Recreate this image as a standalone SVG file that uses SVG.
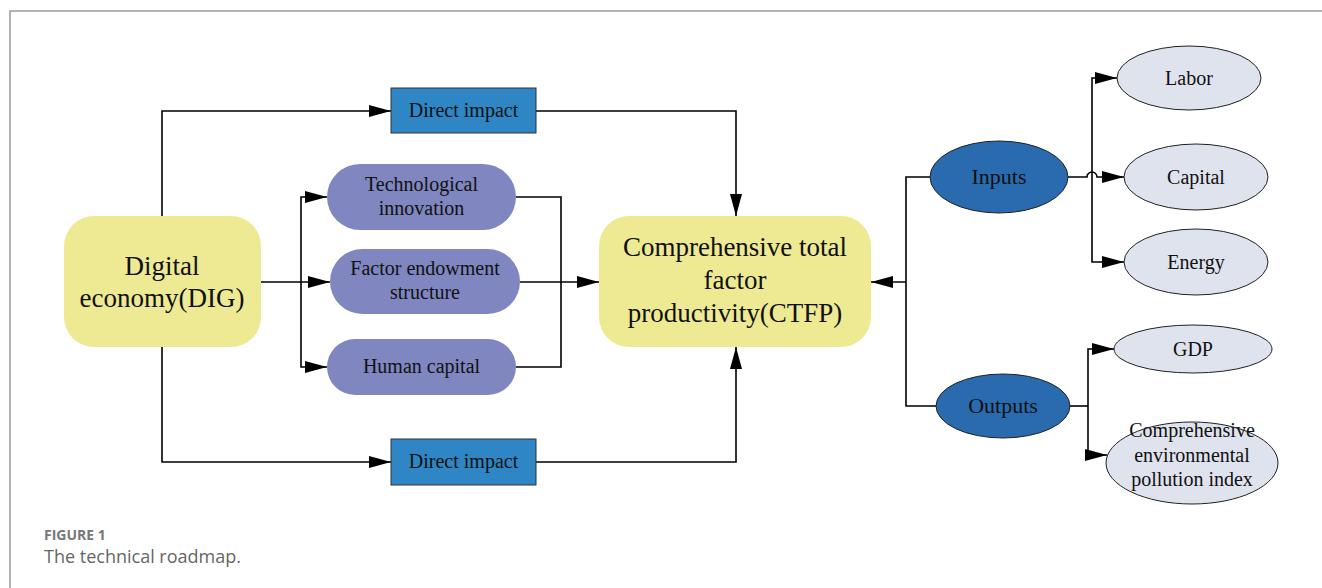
<svg xmlns="http://www.w3.org/2000/svg" width="1322" height="588" viewBox="0 0 1322 588">
<defs>
<marker id="arr" viewBox="0 0 22 12" refX="22" refY="6" markerWidth="22" markerHeight="12" markerUnits="userSpaceOnUse" orient="auto"><path d="M0,0 L22,6 L0,12 z" fill="#000"/></marker>
<style>
.t{font-family:"Liberation Serif","Times New Roman",serif;fill:#111;text-anchor:middle}
.big{font-size:27px}
.mid{font-size:20px}
.io{font-size:22px}
.ln{fill:none;stroke:#000;stroke-width:1.6}
.yel{fill:#EEEA94}
.dir{fill:#2E86C4;stroke:#333;stroke-width:1}
.pill{fill:#7F86C0}
.dk{fill:#2A6BB0;stroke:#222;stroke-width:1}
.lt{fill:#DFE3EE;stroke:#222;stroke-width:1}
.cap{font-family:"Open Sans","Liberation Sans",sans-serif;fill:#777}
</style>
</defs>
<rect width="1322" height="588" fill="#fff"/>
<path d="M10,588 V11 H1322" fill="none" stroke="#999" stroke-width="1.5"/>

<g id="connectors">
<path class="ln" d="M162,216 V111 H391" marker-end="url(#arr)"/>
<path class="ln" d="M536,111 H736 V216" marker-end="url(#arr)"/>
<path class="ln" d="M162,347 V462 H391" marker-end="url(#arr)"/>
<path class="ln" d="M536,462 H736 V347" marker-end="url(#arr)"/>
<path class="ln" d="M261,282 H330" marker-end="url(#arr)"/>
<path class="ln" d="M301,282 V197 H327" marker-end="url(#arr)"/>
<path class="ln" d="M301,282 V367 H327" marker-end="url(#arr)"/>
<path class="ln" d="M516,197 H561 V367 H516"/>
<path class="ln" d="M520,282 H599" marker-end="url(#arr)"/>
<path class="ln" d="M906,282 H871" marker-end="url(#arr)"/>
<path class="ln" d="M930,177 H906 V406 H937"/>
<path class="ln" d="M1068,177 H1087 A5,5 0 0 1 1097,177 H1124" marker-end="url(#arr)"/>
<path class="ln" d="M1092,177 V78 H1117" marker-end="url(#arr)"/>
<path class="ln" d="M1092,177 V262 H1124" marker-end="url(#arr)"/>
<path class="ln" d="M1070,406 H1088"/>
<path class="ln" d="M1088,406 V349 H1114" marker-end="url(#arr)"/>
<path class="ln" d="M1088,406 V455 H1107" marker-end="url(#arr)"/>
</g>

<g id="dig">
<rect class="yel" x="64" y="216" width="197" height="131" rx="30"/>
<text class="t big" x="162" y="275">Digital</text>
<text class="t big" x="162" y="307">economy(DIG)</text>
</g>
<g id="ctfp">
<rect class="yel" x="599" y="216" width="272" height="131" rx="30"/>
<text class="t big" x="735" y="256">Comprehensive total</text>
<text class="t big" x="735" y="289">factor</text>
<text class="t big" x="735" y="322">productivity(CTFP)</text>
</g>
<g id="direct-top">
<rect class="dir" x="391" y="88" width="145" height="45"/>
<text class="t mid" x="463.5" y="117">Direct impact</text>
</g>
<g id="direct-bottom">
<rect class="dir" x="391" y="439" width="145" height="46"/>
<text class="t mid" x="463.5" y="468">Direct impact</text>
</g>
<g id="tech">
<rect class="pill" x="327" y="164" width="189" height="66" rx="33"/>
<text class="t mid" x="421.5" y="191">Technological</text>
<text class="t mid" x="421.5" y="215">innovation</text>
</g>
<g id="factor">
<rect class="pill" x="330" y="249" width="190" height="65" rx="32.5"/>
<text class="t mid" x="425" y="275">Factor endowment</text>
<text class="t mid" x="425" y="299">structure</text>
</g>
<g id="human">
<rect class="pill" x="327" y="339" width="189" height="56" rx="28"/>
<text class="t mid" x="421.5" y="373">Human capital</text>
</g>
<g id="inputs">
<ellipse class="dk" cx="999" cy="177" rx="69" ry="36"/>
<text class="t io" x="999" y="184">Inputs</text>
</g>
<g id="outputs">
<ellipse class="dk" cx="1003" cy="406" rx="67" ry="32"/>
<text class="t io" x="1003" y="413">Outputs</text>
</g>
<g id="labor">
<ellipse class="lt" cx="1189" cy="78" rx="72" ry="32"/>
<text class="t mid" x="1189" y="85">Labor</text>
</g>
<g id="capital">
<ellipse class="lt" cx="1196" cy="177" rx="72" ry="33"/>
<text class="t mid" x="1196" y="184">Capital</text>
</g>
<g id="energy">
<ellipse class="lt" cx="1196" cy="262" rx="72" ry="33"/>
<text class="t mid" x="1196" y="269">Energy</text>
</g>
<g id="gdp">
<ellipse class="lt" cx="1193" cy="349" rx="79" ry="24"/>
<text class="t mid" x="1193" y="356">GDP</text>
</g>
<g id="pollution">
<ellipse class="lt" cx="1192" cy="463" rx="86" ry="41"/>
<text class="t mid" x="1192" y="437">Comprehensive</text>
<text class="t mid" x="1192" y="462">environmental</text>
<text class="t mid" x="1192" y="486">pollution index</text>
</g>

<text class="cap" x="44" y="540" font-size="14" font-weight="bold">FIGURE 1</text>
<text class="cap" x="44" y="563" font-size="18" style="fill:#666">The technical roadmap.</text>
</svg>
